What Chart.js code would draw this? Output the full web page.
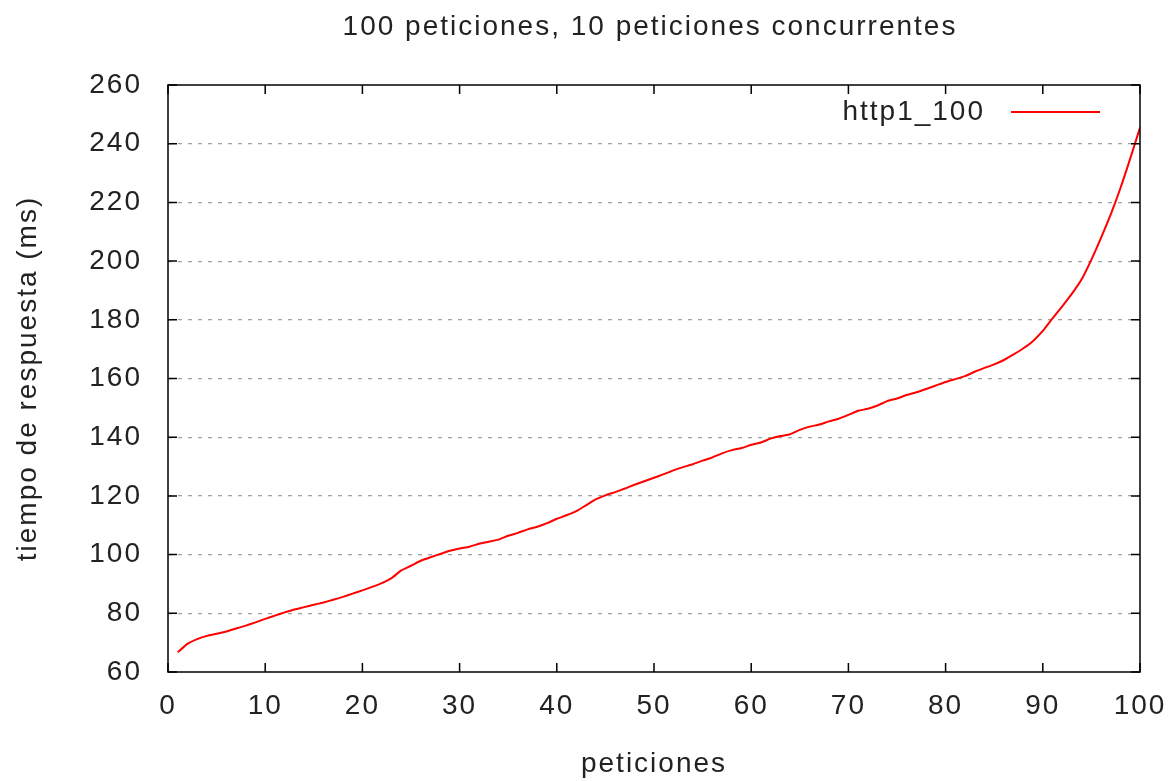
<!DOCTYPE html>
<html>
<head>
<meta charset="utf-8">
<title>100 peticiones, 10 peticiones concurrentes</title>
<script src="https://cdn.jsdelivr.net/npm/chart.js@4"></script>
<style>
    html, body { margin: 0; padding: 0; background: #fff; }
    #wrap { width: 1176px; height: 781px; }
</style>
</head>
<body>
<div id="wrap"><canvas id="chart"></canvas></div>
<script>
// datos
let peticiones = [];
for (let i = 1; i <= 100; i++) peticiones.push(i);

let tiempos = [
    66.7, 69.6, 71.2, 72.3, 73.0, 73.8, 74.8, 75.8, 76.9, 78.1,
    79.2, 80.3, 81.3, 82.1, 82.9, 83.7, 84.6, 85.6, 86.7, 87.8,
    89.0, 90.3, 92.0, 94.6, 96.2, 97.9, 99.1, 100.2, 101.3, 102.1,
    102.7, 103.7, 104.4, 105.1, 106.4, 107.4, 108.6, 109.5, 110.7, 112.2,
    113.4, 114.8, 116.8, 118.8, 120.2, 121.3, 122.5, 123.8, 125.0, 126.2,
    127.4, 128.7, 129.8, 130.8, 132.0, 133.1, 134.5, 135.6, 136.3, 137.4,
    138.2, 139.5, 140.4, 141.0, 142.5, 143.6, 144.3, 145.4, 146.3, 147.6,
    149.0, 149.7, 150.8, 152.3, 153.2, 154.4, 155.3, 156.4, 157.6, 158.8,
    159.8, 160.8, 162.3, 163.6, 164.8, 166.3, 168.2, 170.3, 172.8, 176.2,
    180.5, 184.6, 188.9, 193.8, 200.5, 208.0, 216.0, 225.0, 235.0, 245.5
];

let serieNombre = "http1_100";
let titulo = "100 peticiones, 10 peticiones concurrentes";
let xTitulo = "peticiones";
let yTitulo = "tiempo de respuesta (ms)";
let xTicks = [0, 10, 20, 30, 40, 50, 60, 70, 80, 90, 100];
let yTicks = [60, 80, 100, 120, 140, 160, 180, 200, 220, 240, 260];

const FONT = "'Liberation Sans', Arial, sans-serif";
const TEXT = "#222";

// marco, marcas hacia dentro, titulo y leyenda (estilo gnuplot)
const gnuplotBox = {
    id: "gnuplotBox",
    beforeDraw(chart) {
        chart.ctx.letterSpacing = "2px";
    },
    afterDatasetsDraw(chart) {
        let ctx = chart.ctx;
        let a = chart.chartArea;
        let xs = chart.scales.x;
        let ys = chart.scales.y;
        ctx.save();
        ctx.strokeStyle = "#000";
        ctx.lineWidth = 1.5;
        ctx.beginPath();
        xTicks.forEach(v => {
            let px = xs.getPixelForValue(v);
            ctx.moveTo(px, a.bottom); ctx.lineTo(px, a.bottom - 9);
            ctx.moveTo(px, a.top); ctx.lineTo(px, a.top + 9);
        });
        yTicks.forEach(v => {
            let py = ys.getPixelForValue(v);
            ctx.moveTo(a.left, py); ctx.lineTo(a.left + 9, py);
            ctx.moveTo(a.right, py); ctx.lineTo(a.right - 9, py);
        });
        ctx.stroke();
        ctx.strokeRect(a.left, a.top, a.right - a.left, a.bottom - a.top);

        ctx.font = "28px " + FONT;
        ctx.fillStyle = TEXT;
        ctx.textBaseline = "middle";

        // titulo
        ctx.textAlign = "center";
        ctx.fillText(titulo, (a.left + a.right) / 2 - 4, 27);

        // leyenda
        let ly = a.top + 27;
        ctx.textAlign = "right";
        ctx.fillText(serieNombre, a.right - 155, ly);
        ctx.strokeStyle = "#ff0000";
        ctx.lineWidth = 2;
        ctx.beginPath();
        ctx.moveTo(a.right - 129, ly);
        ctx.lineTo(a.right - 40, ly);
        ctx.stroke();
        ctx.restore();
    }
};

let ctx = document.getElementById("chart").getContext("2d");
new Chart(ctx, {
    type: "line",
    data: {
        labels: peticiones,
        datasets: [{
            label: serieNombre,
            data: peticiones.map((p, i) => ({ x: p, y: tiempos[i] })),
            borderColor: "#ff0000",
            borderWidth: 2,
            pointRadius: 0,
            tension: 0.2,
            fill: false
        }]
    },
    options: {
        responsive: true,
        maintainAspectRatio: false,
        animation: false,
        layout: { autoPadding: false, padding: { left: 0, right: 36, top: 85, bottom: 0 } },
        plugins: {
            legend: { display: false },
            tooltip: { enabled: false },
            title: { display: false }
        },
        scales: {
            x: {
                type: "linear",
                min: 0,
                max: 100,
                afterFit: s => { s.height = 109; s.paddingLeft = 0; s.paddingRight = 0; },
                afterBuildTicks: s => { s.ticks = xTicks.map(v => ({ value: v })); },
                grid: { display: false, drawTicks: false },
                border: { display: false },
                ticks: {
                    color: TEXT,
                    padding: 17,
                    maxRotation: 0,
                    font: { family: FONT, size: 28 }
                },
                title: {
                    display: true,
                    text: xTitulo,
                    color: TEXT,
                    font: { family: FONT, size: 28 },
                    padding: { top: 0, bottom: 0 }
                }
            },
            y: {
                type: "linear",
                min: 60,
                max: 260,
                afterFit: s => { s.width = 168; s.paddingTop = 0; s.paddingBottom = 0; },
                afterBuildTicks: s => { s.ticks = yTicks.map(v => ({ value: v })); },
                grid: {
                    drawTicks: false,
                    lineWidth: 1.2,
                    color: c => (c.tick && (c.tick.value === 60 || c.tick.value === 260)) ? "rgba(0,0,0,0)" : "#a0a0a0"
                },
                border: { display: false, dash: [4, 6] },
                ticks: {
                    color: TEXT,
                    padding: 26,
                    font: { family: FONT, size: 28 }
                },
                title: {
                    display: true,
                    text: yTitulo,
                    color: TEXT,
                    font: { family: FONT, size: 28 },
                    padding: { top: 11, bottom: 0 }
                }
            }
        }
    },
    plugins: [gnuplotBox]
});
</script>
</body>
</html>
